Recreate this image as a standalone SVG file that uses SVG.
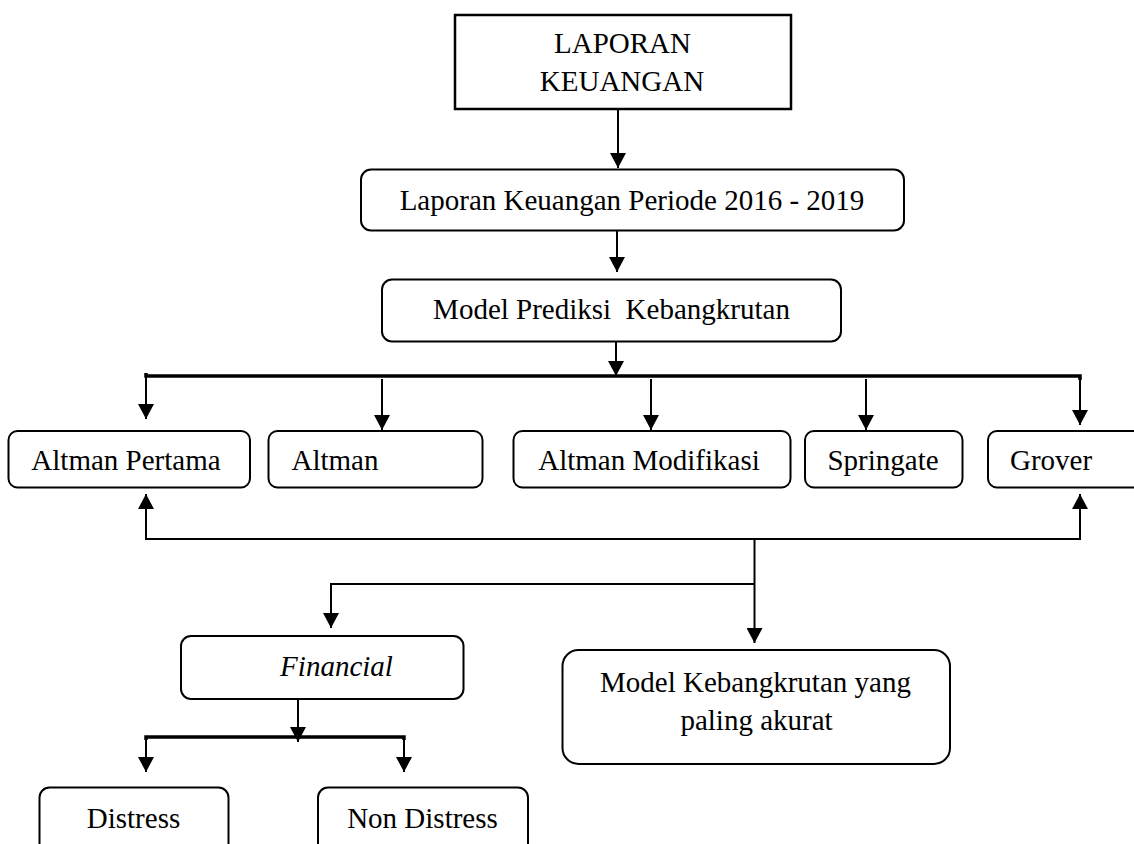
<svg xmlns="http://www.w3.org/2000/svg" width="1134" height="844" viewBox="0 0 1134 844">
<style>
.box{fill:#fff;stroke:#000;stroke-width:2}
.t{font-family:"Liberation Serif","Times New Roman",serif;font-size:29px;fill:#000}
.m{text-anchor:middle}
.c{fill:none;stroke:#000;stroke-width:2}
.thick{fill:none;stroke:#000;stroke-width:3.5}
</style>
<defs>
<marker id="ah" viewBox="0 0 15 16" refX="15" refY="8" markerWidth="15" markerHeight="16" orient="auto" markerUnits="userSpaceOnUse">
<path d="M0,0 L15,8 L0,16 z" fill="#000"/>
</marker>
</defs>
<rect width="1134" height="844" fill="#fff"/>
<g id="connectors">
<line class="c" x1="618" y1="109" x2="618" y2="168" marker-end="url(#ah)"/>
<line class="c" x1="617" y1="231" x2="617" y2="272" marker-end="url(#ah)"/>
<line class="c" x1="616" y1="342" x2="616" y2="376" marker-end="url(#ah)"/>
<polyline class="thick" points="146,373 146,376 1080,376 1080,380"/>
<line class="c" x1="146" y1="376" x2="146" y2="419" marker-end="url(#ah)"/>
<line class="c" x1="382" y1="379" x2="382" y2="430" marker-end="url(#ah)"/>
<line class="c" x1="651" y1="379" x2="651" y2="430" marker-end="url(#ah)"/>
<line class="c" x1="866" y1="379" x2="866" y2="430" marker-end="url(#ah)"/>
<line class="c" x1="1080" y1="376" x2="1080" y2="425" marker-end="url(#ah)"/>
<line class="c" x1="146" y1="539" x2="146" y2="494" marker-end="url(#ah)"/>
<line class="c" x1="1080" y1="539" x2="1080" y2="494" marker-end="url(#ah)"/>
<line class="c" x1="145" y1="539" x2="1081" y2="539"/>
<line class="c" x1="754.5" y1="539" x2="754.5" y2="643" marker-end="url(#ah)"/>
<polyline class="c" points="754.5,584 331,584 331,628" marker-end="url(#ah)"/>
<line class="c" x1="298" y1="699" x2="298" y2="742" marker-end="url(#ah)"/>
<polyline class="thick" points="146,740 146,737 404,737 404,740"/>
<line class="c" x1="146" y1="737" x2="146" y2="772" marker-end="url(#ah)"/>
<line class="c" x1="404" y1="737" x2="404" y2="772" marker-end="url(#ah)"/>
</g>
<g id="laporan-keuangan">
<rect x="455" y="15" width="336" height="94" fill="#fff" stroke="#000" stroke-width="2.5"/>
<text class="t m" x="622.5" y="52.5">LAPORAN</text>
<text class="t m" x="622" y="90.5">KEUANGAN</text>
</g>
<g id="laporan-periode">
<rect class="box" x="361" y="169.5" width="543" height="61" rx="10"/>
<text class="t m" x="632" y="209.5">Laporan Keuangan Periode 2016 - 2019</text>
</g>
<g id="model-prediksi">
<rect class="box" x="382" y="279.5" width="459" height="62" rx="10"/>
<text class="t m" x="611.5" y="318.5" xml:space="preserve">Model Prediksi  Kebangkrutan</text>
</g>
<g id="altman-pertama">
<rect class="box" x="8.5" y="431" width="241.5" height="56.5" rx="9"/>
<text class="t m" x="126" y="470">Altman Pertama</text>
</g>
<g id="altman">
<rect class="box" x="268.5" y="431" width="214" height="56.5" rx="9"/>
<text class="t" x="291.5" y="470">Altman</text>
</g>
<g id="altman-modifikasi">
<rect class="box" x="513.5" y="431" width="277" height="56.5" rx="9"/>
<text class="t m" x="649" y="470">Altman Modifikasi</text>
</g>
<g id="springate">
<rect class="box" x="805" y="431" width="157.5" height="56.5" rx="9"/>
<text class="t m" x="883" y="470">Springate</text>
</g>
<g id="grover">
<rect class="box" x="988" y="431" width="170" height="56.5" rx="9"/>
<text class="t" x="1010" y="470">Grover</text>
</g>
<g id="financial">
<rect class="box" x="181" y="636" width="282.5" height="63" rx="10"/>
<text class="t m" x="336.5" y="676" font-style="italic">Financial</text>
</g>
<g id="model-kebangkrutan">
<rect class="box" x="562.5" y="650" width="387.5" height="114" rx="16"/>
<text class="t m" x="755.5" y="691.5">Model Kebangkrutan yang</text>
<text class="t m" x="756.5" y="729.5">paling akurat</text>
</g>
<g id="distress">
<rect class="box" x="39.5" y="787.5" width="189" height="80" rx="10"/>
<text class="t m" x="133.5" y="827.5">Distress</text>
</g>
<g id="non-distress">
<rect class="box" x="318" y="787.5" width="210" height="80" rx="10"/>
<text class="t m" x="422.5" y="827.5">Non Distress</text>
</g>
</svg>
